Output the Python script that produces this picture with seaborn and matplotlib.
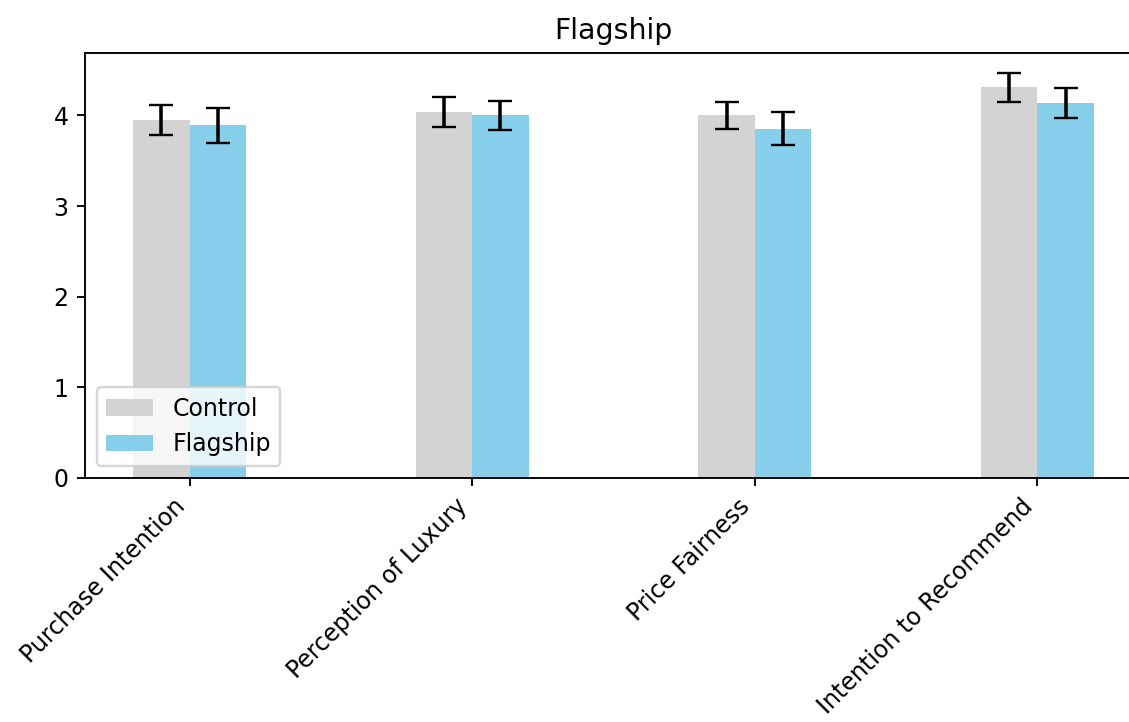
import matplotlib
matplotlib.use("Agg")
import matplotlib.pyplot as plt
import seaborn as sns
import pandas as pd

# Survey measures and group means with their error margins
measures = ["Purchase Intention", "Perception of Luxury", "Price Fairness", "Intention to Recommend"]
groups = ["Control", "Flagship"]
control_means = [3.95, 4.04, 4.00, 4.31]
control_err = [0.17, 0.165, 0.15, 0.16]
flagship_means = [3.89, 4.00, 3.855, 4.14]
flagship_err = [0.19, 0.16, 0.18, 0.165]
colors = ["lightgray", "skyblue"]

df = pd.DataFrame({
    "measure": measures * 2,
    "group": [groups[0]] * len(measures) + [groups[1]] * len(measures),
    "mean": control_means + flagship_means,
    "err": control_err + flagship_err,
})

DPI = 170
fig = plt.figure(figsize=(1129 / DPI, 722 / DPI), dpi=DPI)
ax = fig.add_axes([0.0753, 0.3384, 0.9362, 0.5886])

sns.barplot(data=df, x="measure", y="mean", hue="group", order=measures,
            hue_order=groups, palette=colors, width=0.4, errorbar=None,
            saturation=1, ax=ax)

# error bars on top of each bar, placed from the bar geometry
errs = [control_err, flagship_err]
for container, e in zip(ax.containers, errs):
    xs = [b.get_x() + b.get_width() / 2 for b in container]
    hs = [b.get_height() for b in container]
    ax.errorbar(xs, hs, yerr=e, fmt="none", ecolor="black", capsize=5, elinewidth=1.5)

top = max(m + e for m, e in zip(control_means + flagship_means, control_err + flagship_err))
ax.set_ylim(0, top * 1.05)
ax.set_xlim(-0.37, len(measures) - 1 + 0.37)
ax.set_yticks([0, 1, 2, 3, 4])

ax.set_xlabel("")
ax.set_ylabel("")
ax.set_title("Flagship")
plt.setp(ax.get_xticklabels(), rotation=45, ha="right")

leg = ax.get_legend()
handles = leg.legend_handles
labels = [t.get_text() for t in leg.get_texts()]
ax.legend(handles, labels, loc="lower left")

fig.savefig("out.png", dpi=DPI)
